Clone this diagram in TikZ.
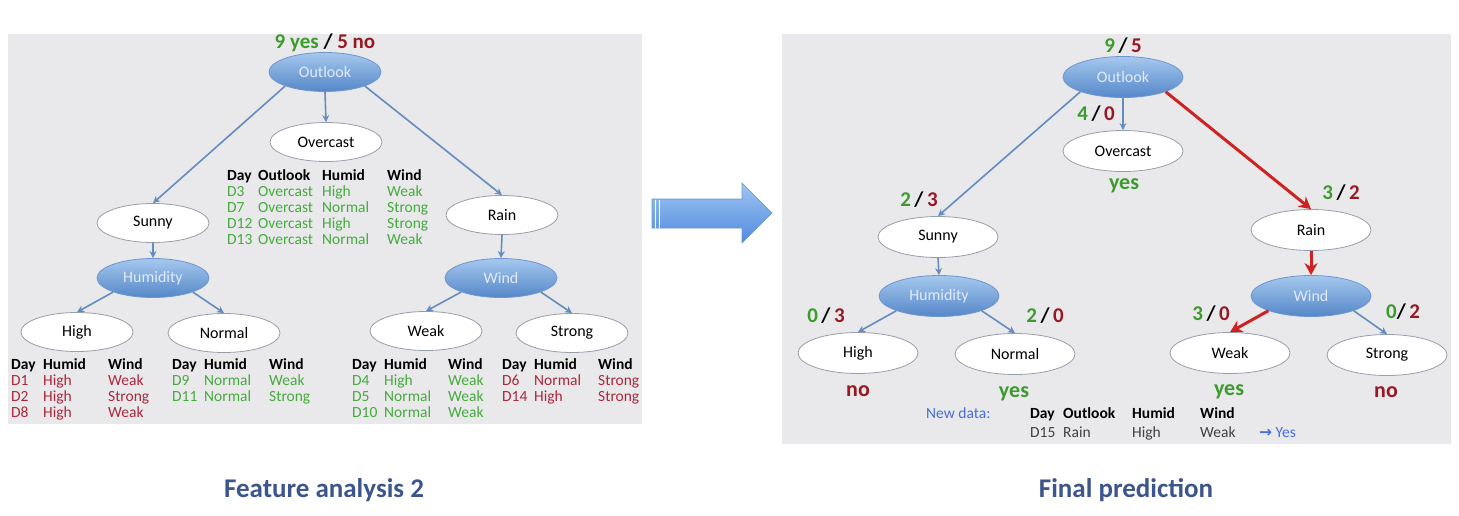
\documentclass[tikz,border=0pt]{standalone}
\usepackage{fontspec}
\setmainfont{Carlito}
\newfontfamily\symfont{DejaVu Sans}
\usepackage{xcolor}
\usepackage{tikz}
\usetikzlibrary{shapes.geometric,arrows.meta}

\definecolor{panelgray}{RGB}{233,233,236}
\definecolor{nodeedge}{RGB}{150,158,172}
\definecolor{splittop}{RGB}{165,200,238}
\definecolor{splitbot}{RGB}{85,135,200}
\definecolor{splitedge}{RGB}{110,150,205}
\definecolor{splittext}{RGB}{225,235,250}
\definecolor{linkblue}{RGB}{100,140,190}
\definecolor{hotred}{RGB}{205,35,35}
\definecolor{cgreen}{RGB}{60,155,45}
\definecolor{cred}{RGB}{150,25,35}
\definecolor{tgreen}{RGB}{70,170,60}
\definecolor{tred}{RGB}{170,40,60}
\definecolor{capblue}{RGB}{60,85,140}
\definecolor{newblue}{RGB}{70,110,220}
\definecolor{arrowtop}{RGB}{160,198,242}
\definecolor{arrowbot}{RGB}{80,138,222}

\newcommand{\hd}[1]{\textcolor{black}{\bfseries #1}}
\newcommand{\yn}[2]{\textcolor{cgreen}{#1}\,\textcolor{black}{/}\,\textcolor{cred}{#2}}

\tikzset{
  leaf/.style={ellipse, draw=nodeedge, fill=white, line width=0.8pt,
    minimum width=112pt, minimum height=39pt, inner sep=0pt,
    font=\fontsize{16}{18}\selectfont},
  split/.style={leaf, draw=splitedge, top color=splittop, bottom color=splitbot,
    text=splittext},
  wide/.style={minimum width=120pt, minimum height=41pt},
  link/.style={draw=linkblue, line width=1.6pt, -{Stealth[length=7pt,width=7pt]}},
  hot/.style={draw=hotred, line width=3pt, -{Stealth[length=12pt,width=13pt]}},
  count/.style={font=\fontsize{21}{23}\selectfont\bfseries},
  verdict/.style={font=\fontsize{22}{24}\selectfont\bfseries},
  datatab/.style={inner sep=0pt, anchor=base west, font=\fontsize{15.5}{16}\selectfont},
  caption/.style={font=\fontsize{27}{30}\selectfont\bfseries, text=capblue}
}

\begin{document}
\begin{tikzpicture}[x=1pt, y=-1pt]
  \useasboundingbox (0,0) rectangle (1459,515);

  % panels
  \fill[panelgray] (8,34) rectangle (642,424);
  \fill[panelgray] (782,34) rectangle (1451,444);

  % ---------- left: feature analysis ----------
  \node[count] (lroot) at (325,43) {\textcolor{cgreen}{9 yes} / \textcolor{cred}{5 no}};
  \node[split] (loutl) at (325,72) {Outlook};
  \node[leaf] (lover) at (326,142) {Overcast};
  \node[leaf] (lsunny) at (153,223) {Sunny};
  \node[split] (lhum) at (153,278) {Humidity};
  \node[leaf] (lhigh) at (77,332) {High};
  \node[leaf] (lnorm) at (224,333) {Normal};
  \node[leaf] (lrain) at (502,215) {Rain};
  \node[split] (lwind) at (501,278) {Wind};
  \node[leaf] (lweak) at (426,331) {Weak};
  \node[leaf] (lstrong) at (572,333) {Strong};

  \draw[link] (loutl.south) -- (lover.north);
  \draw[link] (loutl.south west) -- (lsunny.north);
  \draw[link] (loutl.south east) -- (lrain.north);
  \draw[link] (lsunny.south) -- (lhum.north);
  \draw[link] (lhum.south west) -- (lhigh.north);
  \draw[link] (lhum.south east) -- (lnorm.north);
  \draw[link] (lrain.south) -- (lwind.north);
  \draw[link] (lwind.south west) -- (lweak.north);
  \draw[link] (lwind.south east) -- (lstrong.north);

  \node[datatab, text=tgreen] (ovtab) at (227,180) {%
    \begin{tabular}[t]{@{}p{31pt}@{}p{64pt}@{}p{65pt}@{}l@{}}
      \hd{Day} & \hd{Outlook} & \hd{Humid} & \hd{Wind}\\
      D3 & Overcast & High & Weak\\
      D7 & Overcast & Normal & Strong\\
      D12 & Overcast & High & Strong\\
      D13 & Overcast & Normal & Weak
    \end{tabular}};
  \node[datatab, text=tred] (hightab) at (11,369) {%
    \begin{tabular}[t]{@{}p{32pt}@{}p{65pt}@{}l@{}}
      \hd{Day} & \hd{Humid} & \hd{Wind}\\
      D1 & High & Weak\\
      D2 & High & Strong\\
      D8 & High & Weak
    \end{tabular}};
  \node[datatab, text=tgreen] (normtab) at (172,369) {%
    \begin{tabular}[t]{@{}p{32pt}@{}p{65pt}@{}l@{}}
      \hd{Day} & \hd{Humid} & \hd{Wind}\\
      D9 & Normal & Weak\\
      D11 & Normal & Strong
    \end{tabular}};
  \node[datatab, text=tgreen] (weaktab) at (352,369) {%
    \begin{tabular}[t]{@{}p{32pt}@{}p{64pt}@{}l@{}}
      \hd{Day} & \hd{Humid} & \hd{Wind}\\
      D4 & High & Weak\\
      D5 & Normal & Weak\\
      D10 & Normal & Weak
    \end{tabular}};
  \node[datatab, text=tred] (strongtab) at (502,369) {%
    \begin{tabular}[t]{@{}p{32pt}@{}p{64pt}@{}l@{}}
      \hd{Day} & \hd{Humid} & \hd{Wind}\\
      D6 & Normal & Strong\\
      D14 & High & Strong
    \end{tabular}};

  % ---------- block arrow ----------
  \shade[top color=arrowtop, bottom color=arrowbot, draw=splitedge, line width=0.6pt]
    (652,199) -- (742,199) -- (742,183) -- (772,213) -- (742,243) -- (742,228)
    -- (652,228) -- cycle;
  \draw[white, line width=1pt] (655.5,199.5) -- (655.5,227.5);
  \draw[white, line width=1pt] (659.5,199.5) -- (659.5,227.5);

  % ---------- right: final prediction ----------
  \node[count] (rroot) at (1123,46) {\yn{9}{5}};
  \node[split, wide] (routl) at (1123,77) {Outlook};
  \node[leaf, wide] (rover) at (1123,151) {Overcast};
  \node[leaf, wide] (rsunny) at (938,237) {Sunny};
  \node[split, wide] (rhum) at (939,296) {Humidity};
  \node[leaf, wide] (rhigh) at (858,353) {High};
  \node[leaf, wide] (rnorm) at (1015,354) {Normal};
  \node[leaf, wide] (rrain) at (1311,230) {Rain};
  \node[split, wide] (rwind) at (1311,296) {Wind};
  \node[leaf, wide] (rweak) at (1230,353) {Weak};
  \node[leaf, wide] (rstrong) at (1387,355) {Strong};

  \draw[link] (routl.south) -- (rover.north);
  \draw[link] (routl.south west) -- (rsunny.north);
  \draw[hot] (routl.south east) -- (rrain.north);
  \draw[link] (rsunny.south) -- (rhum.north);
  \draw[link] (rhum.south west) -- (rhigh.north);
  \draw[link] (rhum.south east) -- (rnorm.north);
  \draw[hot] (rrain.south) -- (rwind.north);
  \draw[hot] (rwind.south west) -- (rweak.north);
  \draw[link] (rwind.south east) -- (rstrong.north);

  \node[count] (covr) at (1096,114) {\yn{4}{0}};
  \node[count] (csun) at (919,200) {\yn{2}{3}};
  \node[count] (crain) at (1341,193) {\yn{3}{2}};
  \node[count] (chigh) at (826,316) {\yn{0}{3}};
  \node[count] (cnorm) at (1045,316) {\yn{2}{0}};
  \node[count] (cweak) at (1211,314) {\yn{3}{0}};
  \node[count] (cstrong) at (1403,312) {\textcolor{cgreen}{0}/\,\textcolor{cred}{2}};

  \node[verdict, text=cgreen] (vovr) at (1124,186) {yes};
  \node[verdict, text=cred] (vhigh) at (858,391) {no};
  \node[verdict, text=cgreen] (vnorm) at (1014,394) {yes};
  \node[verdict, text=cgreen] (vweak) at (1229,392) {yes};
  \node[verdict, text=cred] (vstrong) at (1386,392) {no};

  \node[datatab, text=newblue] (newlbl) at (926,418) {New data:};
  \node[datatab, text=black!75] (newtab) at (1030,418) {%
    \begin{tabular}[t]{@{}p{33pt}@{}p{69pt}@{}p{68pt}@{}l@{}}
      \hd{Day} & \hd{Outlook} & \hd{Humid} & \hd{Wind}\\[3pt]
      D15 & Rain & High & Weak
    \end{tabular}};
  \node[datatab, text=newblue] (newres) at (1259,437) {{\symfont\bfseries →} Yes};

  % captions
  \node[caption] (lcap) at (324,490) {Feature analysis 2};
  \node[caption] (rcap) at (1126,490) {Final prediction};
\end{tikzpicture}
\end{document}
